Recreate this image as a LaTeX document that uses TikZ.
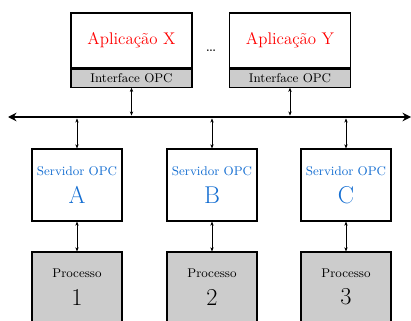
\documentclass[tikz,border=0pt]{standalone}
\usepackage{tikz}
\usetikzlibrary{positioning,arrows.meta}

\definecolor{opcblue}{RGB}{20,110,210}
\definecolor{boxgray}{gray}{0.8}

\tikzset{
  appbox/.style = {draw, thick, fill=white, minimum width=3.025cm, minimum height=1.375cm,
                   inner sep=0pt, text=red, font=\large},
  ifbox/.style = {draw, thick, fill=boxgray, minimum width=3.025cm, minimum height=0.45cm,
                  inner sep=0pt, font=\small},
  srvbox/.style = {draw, thick, fill=white, minimum width=2.25cm, minimum height=1.8cm,
                   align=center, text=opcblue, font=\small},
  procbox/.style = {draw, thick, fill=boxgray, minimum width=2.25cm, minimum height=1.75cm,
                    align=center, font=\small},
  link/.style = {{Stealth[length=3pt,width=2.4pt]}-{Stealth[length=3pt,width=2.4pt]}, thin},
  bus/.style = {{Stealth[length=6pt,width=6pt]}-{Stealth[length=6pt,width=6pt]}, line width=2pt}
}

\begin{document}
\begin{tikzpicture}[x=0.025cm, y=-0.025cm]
        \clip (0, 0) rectangle (411, 320);
        \useasboundingbox (0, 0) rectangle (411, 320);

        % applications on top
        \node[appbox] (appX) at (131.5, 40.5) {Aplicação X};
        \node[ifbox, below=0pt of appX] (ifX) {Interface OPC};
        \node[appbox] (appY) at (290, 40.5) {Aplicação Y};
        \node[ifbox, below=0pt of appY] (ifY) {Interface OPC};
        \node[font=\large] (dots) at (211, 51) {\ldots};

        % the bus
        \coordinate (busL) at (8, 117);
        \coordinate (busR) at (411, 117);
        \draw[bus] (busL) -- (busR);

        % servers
        \node[srvbox] (srvA) at (77, 185) {Servidor OPC\\[7pt]{\LARGE A}};
        \node[srvbox] (srvB) at (212, 185) {Servidor OPC\\[7pt]{\LARGE B}};
        \node[srvbox] (srvC) at (346, 185) {Servidor OPC\\[7pt]{\LARGE C}};

        % processes
        \node[procbox] (procA) at (77, 287) {Processo\\[7pt]{\LARGE 1}};
        \node[procbox] (procB) at (212, 287) {Processo\\[7pt]{\LARGE 2}};
        \node[procbox] (procC) at (346, 287) {Processo\\[7pt]{\LARGE 3}};

        % connectors
        \draw[link, shorten >=1pt] (ifX.south) -- (ifX.south |- busL);
        \draw[link, shorten >=1pt] (ifY.south) -- (ifY.south |- busL);
        \foreach \s in {A, B, C} {
            \draw[link, shorten <=1pt] (srv\s.north |- busL) -- (srv\s.north);
            \draw[link] (srv\s.south) -- (proc\s.north);
        }
    \end{tikzpicture}
\end{document}
